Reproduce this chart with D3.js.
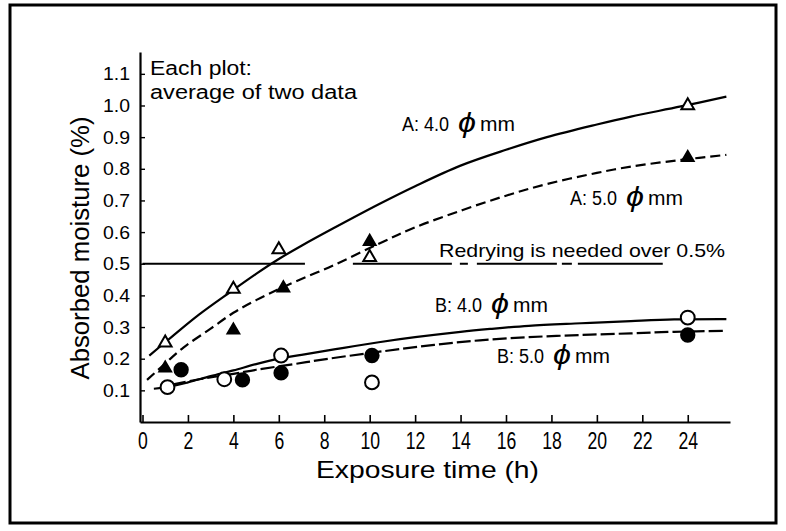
<!DOCTYPE html>
<html><head><meta charset="utf-8">
<script src="https://cdn.jsdelivr.net/npm/d3@7"></script>
<style>
html,body{margin:0;padding:0;background:#fff;}
svg text{font-family:"Liberation Sans",Arial,sans-serif;fill:#000;}
</style></head>
<body><svg id="chart" width="786" height="531"></svg>
<script>
// ---- data ----
const xTicks = [0,2,4,6,8,10,12,14,16,18,20,22,24];
const yTicks = [0.1,0.2,0.3,0.4,0.5,0.6,0.7,0.8,0.9,1.0,1.1];

const a40X = [1, 4, 6, 10, 24];
const a40Y = [0.25, 0.42, 0.545, 0.52, 1.0];
const a50X = [1, 4, 6.2, 10, 24];
const a50Y = [0.17, 0.29, 0.423, 0.57, 0.835];
const b40X = [1.1, 3.6, 6.1, 10.1, 24];
const b40Y = [0.11, 0.135, 0.21, 0.125, 0.33];
const b50X = [1.7, 4.4, 6.1, 10.1, 24];
const b50Y = [0.165, 0.133, 0.155, 0.21, 0.275];

const a40CurveX = [0.3,1.3,2.5,3.85,5,6,7,8.4,10.4,12,14,16,17.8,20,21.5,23.7,25.7];
const a40CurveY = [0.21,0.27,0.34,0.41,0.468,0.515,0.557,0.612,0.688,0.745,0.81,0.86,0.9,0.94,0.965,0.997,1.028];
const a50CurveX = [0.2,1.0,1.8,3,4,5,6.3,8.4,10.45,12,14.1,16,17.8,20,21.5,23.7,25.7];
const a50CurveY = [0.133,0.185,0.235,0.295,0.345,0.385,0.43,0.495,0.565,0.615,0.67,0.715,0.752,0.787,0.807,0.828,0.844];
const b40CurveX = [0.5,1.1,2,3,4,5,6,7,8.5,10.4,12,14,15.3,17,19.3,21.5,23.4,25.7];
const b40CurveY = [0.105,0.11,0.125,0.145,0.163,0.183,0.2,0.212,0.23,0.252,0.268,0.285,0.294,0.304,0.312,0.319,0.324,0.325];
const b50CurveX = [1.3,2.5,4,5,6.6,8,9.9,11.3,13,14.85,17,19.3,21.5,23.4,25.7];
const b50CurveY = [0.118,0.135,0.152,0.165,0.182,0.198,0.217,0.23,0.245,0.258,0.268,0.275,0.28,0.285,0.288];

const thresholdValue = 0.5;
const thresholdSegments = [[0, 7.15], [9.26, 22.9]];

// ---- chart ----
const svg = d3.select("#chart");
svg.append("rect").attr("x",10).attr("y",5).attr("width",766).attr("height",518)
  .attr("fill","none").attr("stroke","#000").attr("stroke-width",3);

const x = d3.scaleLinear().domain([-0.11, 25.86]).range([140, 730]);
const y = d3.scaleLinear().domain([0, 1.169]).range([422, 52]);

// axes
const xAxis = d3.axisBottom(x).tickValues(xTicks).tickSizeInner(-7).tickSizeOuter(0).tickPadding(10).tickFormat(d3.format("d"));
const gx = svg.append("g").attr("transform",`translate(0,${y(0)})`).call(xAxis);
gx.select(".domain").attr("stroke-width",2.2);
gx.selectAll(".tick line").attr("stroke-width",1.6);
gx.selectAll(".tick text").attr("font-size",24).attr("font-family","Liberation Sans, Arial, sans-serif")
  .attr("textLength", d => String(d).length*9.8).attr("lengthAdjust","spacingAndGlyphs");

const yAxis = d3.axisLeft(y).tickValues(yTicks).tickSizeInner(-5).tickSizeOuter(0).tickPadding(10).tickFormat(d3.format(".1f"));
const gy = svg.append("g").attr("transform",`translate(${x.range()[0]},0)`).call(yAxis);
gy.select(".domain").attr("stroke-width",2.2);
gy.selectAll(".tick line").attr("stroke-width",1.4);
gy.selectAll(".tick text").attr("font-size",19).attr("font-family","Liberation Sans, Arial, sans-serif")
  .attr("textLength",27).attr("lengthAdjust","spacingAndGlyphs");

// threshold line
svg.append("g").selectAll("line").data(thresholdSegments).join("line")
  .attr("x1", d => x(d[0])).attr("x2", d => x(d[1]))
  .attr("y1", y(thresholdValue)).attr("y2", y(thresholdValue))
  .attr("stroke","#000").attr("stroke-width",2)
  .attr("stroke-dasharray",(d,i) => i===0 ? null : "99,8,8,9,80,5,10,6,90");

// curves
const line = d3.line().x(d => x(d[0])).y(d => y(d[1])).curve(d3.curveCatmullRom.alpha(0.5));
const zip = (a,b) => a.map((v,i) => [v,b[i]]);
const curves = [
  {xs:a40CurveX, ys:a40CurveY, dash:null},
  {xs:a50CurveX, ys:a50CurveY, dash:"10,5"},
  {xs:b40CurveX, ys:b40CurveY, dash:null},
  {xs:b50CurveX, ys:b50CurveY, dash:"14,4"}
];
svg.append("g").selectAll("path").data(curves).join("path")
  .attr("d", d => line(zip(d.xs,d.ys)))
  .attr("fill","none").attr("stroke","#000").attr("stroke-width",2.2)
  .attr("stroke-dasharray", d => d.dash);

// markers
const markerSets = [
  {xs:a40X, ys:a40Y, type:d3.symbolTriangle, size:70, fill:"#fff"},
  {xs:a50X, ys:a50Y, type:d3.symbolTriangle, size:60, fill:"#000"},
  {xs:b40X, ys:b40Y, type:d3.symbolCircle, size:150, fill:"#fff"},
  {xs:b50X, ys:b50Y, type:d3.symbolCircle, size:140, fill:"#000"}
];
markerSets.forEach(m => {
  svg.append("g").selectAll("path").data(zip(m.xs,m.ys)).join("path")
    .attr("transform", d => `translate(${x(d[0])},${y(d[1])})`)
    .attr("d", d3.symbol().type(m.type).size(m.size))
    .attr("fill", m.fill).attr("stroke","#000").attr("stroke-width",2);
});

// annotations
const notes = [
  {t:"Each plot:", x:150, y:75, w:102, fs:20},
  {t:"average of two data", x:150, y:99, w:207, fs:20}
];
svg.append("g").selectAll("text").data(notes).join("text")
  .attr("x", d => d.x).attr("y", d => d.y).attr("font-size", d => d.fs)
  .attr("textLength", d => d.w).attr("lengthAdjust","spacingAndGlyphs")
  .text(d => d.t);

const sizeNotes = [
  {pre:"A: 4.0", x:402, y:131},
  {pre:"A: 5.0", x:570, y:205},
  {pre:"B: 4.0", x:435, y:312},
  {pre:"B: 5.0", x:497, y:363}
];
sizeNotes.forEach(n => {
  const g = svg.append("g");
  g.append("text").attr("x", n.x).attr("y", n.y).attr("font-size", 20)
    .attr("textLength", 47).attr("lengthAdjust","spacingAndGlyphs").text(n.pre);
  g.append("text").attr("x", n.x + 56).attr("y", n.y + 1).attr("font-size", 27)
    .attr("textLength", 18).attr("lengthAdjust","spacingAndGlyphs")
    .attr("font-style","italic").attr("font-family","DejaVu Sans, sans-serif").text("\u03D5");
  g.append("text").attr("x", n.x + 78).attr("y", n.y).attr("font-size", 20)
    .attr("textLength", 35).attr("lengthAdjust","spacingAndGlyphs").text("mm");
});

svg.append("text").attr("x",439).attr("y",257).attr("font-size",19)
  .attr("textLength",286).attr("lengthAdjust","spacingAndGlyphs")
  .text("Redrying is needed over 0.5%");

svg.append("text").attr("x",427.5).attr("y",478).attr("text-anchor","middle")
  .attr("font-size",24).attr("textLength",223).attr("lengthAdjust","spacingAndGlyphs")
  .text("Exposure time (h)");
svg.append("text").attr("transform","translate(89,248) rotate(-90)").attr("text-anchor","middle")
  .attr("font-size",25).attr("textLength",263).attr("lengthAdjust","spacingAndGlyphs")
  .text("Absorbed moisture (%)");
</script></body></html>
